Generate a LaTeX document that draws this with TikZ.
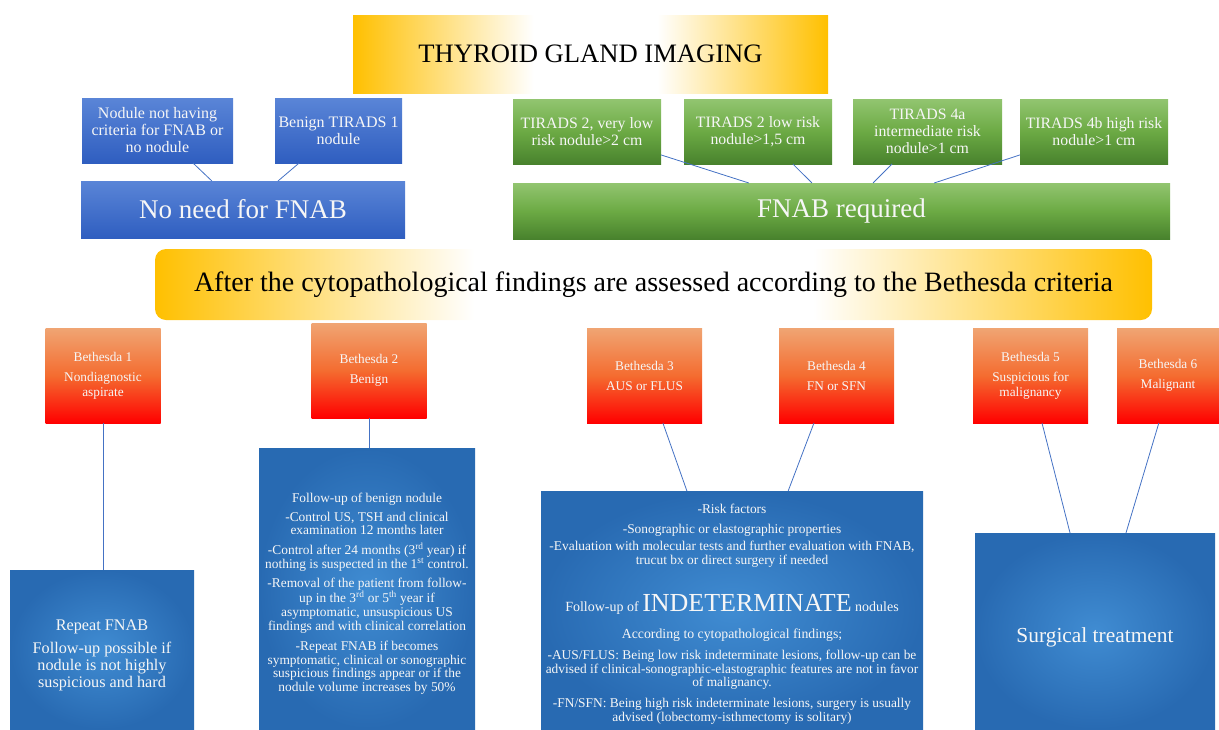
\documentclass[tikz,border=0pt]{standalone}
\usepackage{fontspec}
\setmainfont{Liberation Serif}
\usetikzlibrary{calc}
\definecolor{gold}{RGB}{255,192,0}
\definecolor{linec}{RGB}{68,114,196}
\definecolor{txtw}{RGB}{246,246,246}
\definecolor{bluet}{RGB}{90,133,215}
\definecolor{blueb}{RGB}{47,94,192}
\definecolor{greent}{RGB}{146,197,112}
\definecolor{greenm}{RGB}{108,170,68}
\definecolor{greenb}{RGB}{72,130,45}
\definecolor{oranget}{RGB}{240,165,115}
\definecolor{orangem}{RGB}{244,108,48}
\definecolor{oranngeb}{RGB}{255,0,0}
\definecolor{radin}{RGB}{64,140,210}
\definecolor{radout}{RGB}{40,106,178}
\pgfdeclarehorizontalshading{goldtitle}{100bp}{color(0bp)=(gold); color(25bp)=(gold); color(44bp)=(white); color(57bp)=(white); color(75bp)=(gold); color(100bp)=(gold)}
\pgfdeclarehorizontalshading{goldbanner}{100bp}{color(0bp)=(gold); color(25bp)=(gold); color(41bp)=(white); color(58bp)=(white); color(75bp)=(gold); color(100bp)=(gold)}
\begin{document}
\begin{tikzpicture}[x=1pt,y=-1pt,
  base/.style={inner sep=0pt, outer sep=0pt, align=center},
  goldbox/.style={base, shading=goldtitle, text=black},
  bluebox/.style={base, top color=bluet, bottom color=blueb, text=txtw, font=\fontsize{16}{17}\selectfont},
  greenbox/.style={base, top color=greent, bottom color=greenb, middle color=greenm, text=txtw, font=\fontsize{15.8}{17}\selectfont},
  bethbox/.style={base, top color=oranget, bottom color=oranngeb, middle color=orangem, text=txtw, font=\fontsize{13.3}{15}\selectfont, minimum width=115pt, minimum height=95pt},
  radbox/.style={base, inner color=radin, outer color=radout, text=txtw},
  conn/.style={draw=linec, line width=0.8pt}]
\useasboundingbox (0,0) rectangle (1219,729);

% title
\node[goldbox, minimum width=475pt, minimum height=78pt, font=\fontsize{26.6}{28}\selectfont] (title) at (590.5,54) {THYROID GLAND IMAGING};

% no need branch
\node[bluebox, minimum width=151pt, minimum height=65pt] (n1) at (157.5,130.5) {Nodule not having\\criteria for FNAB or\\no nodule};
\node[bluebox, minimum width=127pt, minimum height=65pt] (n2) at (338.5,130.5) {Benign TIRADS 1\\nodule};
\node[bluebox, minimum width=324pt, minimum height=57pt, font=\fontsize{27}{30}\selectfont] (noneed) at (243,209.5) {No need for FNAB};

% FNAB required branch
\node[greenbox, minimum width=148pt, minimum height=65pt] (g1) at (587,131.5) {TIRADS 2, very low\\risk nodule>2 cm};
\node[greenbox, minimum width=148pt, minimum height=65pt] (g2) at (758,131.5) {TIRADS 2 low risk\\nodule>1,5 cm};
\node[greenbox, minimum width=149pt, minimum height=65pt] (g3) at (927.5,131.5) {TIRADS 4a\\intermediate risk\\nodule>1 cm};
\node[greenbox, minimum width=148pt, minimum height=65pt] (g4) at (1094,131.5) {TIRADS 4b high risk\\nodule>1 cm};
\node[greenbox, minimum width=657pt, minimum height=56pt, font=\fontsize{27}{30}\selectfont] (fnab) at (841.5,211) {FNAB required};

% banner
\node[base, shading=goldbanner, rounded corners=11pt, minimum width=997pt, minimum height=71pt, font=\fontsize{28}{30}\selectfont, text=black] (banner) at (653.5,284.5) {After the cytopathological findings are assessed according to the Bethesda criteria};

% Bethesda boxes
\node[bethbox] (b1) at (103,375.5) {Bethesda 1\\[5pt]Nondiagnostic\\aspirate};
\node[bethbox] (b2) at (369,370.5) {Bethesda 2\\[5pt]Benign};
\node[bethbox] (b3) at (644.5,375.5) {Bethesda 3\\[5pt]AUS or FLUS};
\node[bethbox] (b4) at (836.5,375.5) {Bethesda 4\\[5pt]FN or SFN};
\node[bethbox] (b5) at (1030.5,375.5) {Bethesda 5\\[5pt]Suspicious for\\malignancy};
\node[bethbox, minimum width=102pt] (b6) at (1168,375.5) {Bethesda 6\\[5pt]Malignant};

% result boxes
\node[radbox, minimum width=184pt, minimum height=159pt, font=\fontsize{16.2}{17}\selectfont] (rep) at (102,649.5) {\mbox{}\\[6pt]Repeat FNAB\\[6pt]Follow-up possible if\\nodule is not highly\\suspicious and hard};
\node[radbox, minimum width=216pt, minimum height=281pt, font=\fontsize{13.4}{13.8}\selectfont] (ben) at (367,588.5) {\mbox{}\\[6pt]Follow-up of benign nodule\\[5pt]
-Control US, TSH and clinical\\
examination 12 months later\\[6pt]
-Control after 24 months (3\textsuperscript{rd} year) if\\
nothing is suspected in the 1\textsuperscript{st} control.\\[5pt]
-Removal of the patient from follow-\\
up in the 3\textsuperscript{rd} or 5\textsuperscript{th} year if\\
asymptomatic, unsuspicious US\\
findings and with clinical correlation\\[6pt]
-Repeat FNAB if becomes\\
symptomatic, clinical or sonographic\\
suspicious findings appear or if the\\
nodule volume increases by 50\%};
\node[radbox, minimum width=382pt, minimum height=238pt, font=\fontsize{13.4}{13.6}\selectfont] (ind) at (732,610) {\mbox{}\\[4pt]-Risk factors\\[6pt]
-Sonographic or elastographic properties\\[4pt]
-Evaluation with molecular tests and further evaluation with FNAB,\\
trucut bx or direct surgery if needed\\[26pt]
{\fontsize{14}{14}\selectfont Follow-up of }{\fontsize{26}{26}\selectfont INDETERMINATE}{\fontsize{14}{14}\selectfont\ nodules}\\[13pt]
{\fontsize{13.8}{14}\selectfont According to cytopathological findings;}\\[8pt]
-AUS/FLUS: Being low risk indeterminate lesions, follow-up can be\\
advised if clinical-sonographic-elastographic features are not in favor\\
of malignancy.\\[7pt]
-FN/SFN: Being high risk indeterminate lesions, surgery is usually\\
advised (lobectomy-isthmectomy is solitary)};
\node[radbox, minimum width=240pt, minimum height=196pt, font=\fontsize{21.4}{23}\selectfont] (surg) at (1095,631) {\mbox{}\\[5pt]Surgical treatment};

% connectors
\draw[conn] ($(n1.south west)!0.735!(n1.south east)$) -- ($(noneed.north west)!0.404!(noneed.north east)$);
\draw[conn] ($(n2.south west)!0.19!(n2.south east)$) -- ($(noneed.north west)!0.608!(noneed.north east)$);
\draw[conn] ($(g1.north east)!0.86!(g1.south east)$) -- ($(fnab.north west)!0.359!(fnab.north east)$);
\draw[conn] ($(g2.south west)!0.736!(g2.south east)$) -- ($(fnab.north west)!0.455!(fnab.north east)$);
\draw[conn] ($(g3.south west)!0.262!(g3.south east)$) -- ($(fnab.north west)!0.548!(fnab.north east)$);
\draw[conn] ($(g4.north west)!0.86!(g4.south west)$) -- ($(fnab.north west)!0.641!(fnab.north east)$);
\draw[conn] (b1.south) -- (b1.south |- rep.north);
\draw[conn] (b2.south) -- (b2.south |- ben.north);
\draw[conn] ($(b3.south west)!0.66!(b3.south east)$) -- ($(ind.north west)!0.382!(ind.north east)$);
\draw[conn] ($(b4.south west)!0.304!(b4.south east)$) -- ($(ind.north west)!0.647!(ind.north east)$);
\draw[conn] ($(b5.south west)!0.6!(b5.south east)$) -- ($(surg.north west)!0.396!(surg.north east)$);
\draw[conn] ($(b6.south west)!0.41!(b6.south east)$) -- ($(surg.north west)!0.629!(surg.north east)$);
\end{tikzpicture}
\end{document}
